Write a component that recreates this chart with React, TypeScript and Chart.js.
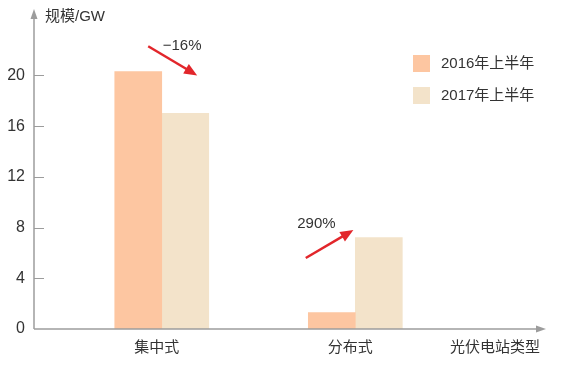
import React, { useEffect, useRef } from 'react';
import { Chart, registerables } from 'chart.js';

Chart.register(...registerables);

const FONT = "'Liberation Sans', 'Noto Sans CJK SC', sans-serif";

const categories = ['集中式', '分布式'];
const categoryPositions = [1, 2];
const seriesNames = ['2016年上半年', '2017年上半年'];
const values2016 = [20.3, 1.3];
const values2017 = [17.0, 7.2];
const seriesColors = ['#FDC6A1', '#F3E3CA'];
const yTickValues = [0, 4, 8, 12, 16, 20];
const yAxisTitle = '规模/GW';
const xAxisTitle = '光伏电站类型';

// annotation anchors in data coordinates (x: category position, y: GW)
const annoText = ['−16%', '290%'];
const annoTextX = [1.005, 1.70];
const annoTextY = [22.3, 8.3];
const annoFromX = [0.93, 1.744];
const annoFromY = [22.3, 5.6];
const annoToX = [1.183, 1.99];
const annoToY = [20.0, 7.8];

const decoPlugin = {
  id: 'deco',
  afterDraw(chart: any) {
    const { ctx, chartArea: a, scales } = chart;
    const xs = scales.x;
    const ys = scales.y;
    ctx.save();
    // axes
    ctx.strokeStyle = '#9c9c9c';
    ctx.fillStyle = '#9c9c9c';
    ctx.lineWidth = 1.5;
    ctx.beginPath();
    ctx.moveTo(a.left, a.bottom);
    ctx.lineTo(a.left, a.top + 4);
    ctx.stroke();
    ctx.beginPath();
    ctx.moveTo(a.left, a.top - 3);
    ctx.lineTo(a.left - 3.5, a.top + 7);
    ctx.lineTo(a.left + 3.5, a.top + 7);
    ctx.closePath();
    ctx.fill();

    ctx.beginPath();
    ctx.moveTo(a.left, a.bottom);
    ctx.lineTo(a.right - 4, a.bottom);
    ctx.stroke();
    ctx.beginPath();
    ctx.moveTo(a.right + 1, a.bottom);
    ctx.lineTo(a.right - 9, a.bottom - 3.5);
    ctx.lineTo(a.right - 9, a.bottom + 3.5);
    ctx.closePath();
    ctx.fill();

    // inner tick marks
    ctx.lineWidth = 1;
    ys.ticks.forEach((t: any) => {
      if (t.value <= 0) return;
      const y = Math.round(ys.getPixelForValue(t.value)) + 0.5;
      ctx.beginPath();
      ctx.moveTo(a.left, y);
      ctx.lineTo(a.left + 10, y);
      ctx.stroke();
    });

    // axis titles
    ctx.fillStyle = '#333333';
    ctx.font = `15px ${FONT}`;
    ctx.textBaseline = 'middle';
    ctx.textAlign = 'left';
    ctx.fillText(yAxisTitle, a.left + 11, a.top + 5);
    ctx.textAlign = 'right';
    ctx.fillText(xAxisTitle, a.right - 5, a.bottom + 19);

    // legend
    const ds = chart.data.datasets;
    ds.forEach((d: any, i: number) => {
      const ly = 55 + i * 32;
      ctx.fillStyle = d.backgroundColor;
      ctx.fillRect(413, ly, 17, 17);
      ctx.fillStyle = '#333333';
      ctx.textAlign = 'left';
      ctx.font = `15px ${FONT}`;
      ctx.fillText(d.label, 441, ly + 9);
    });

    // annotations
    annoText.forEach((txt, i) => {
      const tx = xs.getPixelForValue(annoTextX[i]);
      const ty = ys.getPixelForValue(annoTextY[i]);
      ctx.fillStyle = '#333333';
      ctx.textAlign = 'left';
      ctx.font = `15px ${FONT}`;
      ctx.fillText(txt, tx, ty);

      const x0 = xs.getPixelForValue(annoFromX[i]);
      const y0 = ys.getPixelForValue(annoFromY[i]);
      const x1 = xs.getPixelForValue(annoToX[i]);
      const y1 = ys.getPixelForValue(annoToY[i]);
      const ang = Math.atan2(y1 - y0, x1 - x0);
      const hl = 13;
      const hw = 5.5;
      const bx = x1 - hl * Math.cos(ang);
      const by = y1 - hl * Math.sin(ang);
      ctx.strokeStyle = '#E2262B';
      ctx.fillStyle = '#E2262B';
      ctx.lineWidth = 2.5;
      ctx.beginPath();
      ctx.moveTo(x0, y0);
      ctx.lineTo(bx + 2 * Math.cos(ang), by + 2 * Math.sin(ang));
      ctx.stroke();
      ctx.beginPath();
      ctx.moveTo(x1, y1);
      ctx.lineTo(bx - hw * Math.sin(ang), by + hw * Math.cos(ang));
      ctx.lineTo(bx + hw * Math.sin(ang), by - hw * Math.cos(ang));
      ctx.closePath();
      ctx.fill();
    });
    ctx.restore();
  },
};

export default function App() {
  const ref = useRef<HTMLCanvasElement | null>(null);
  useEffect(() => {
    document.body.style.margin = '0';
    Chart.defaults.font.family = FONT;
    const canvas = ref.current;
    if (!canvas) return;
    const chart = new Chart(canvas, {
      type: 'bar',
      data: {
        datasets: [
          {
            label: seriesNames[0],
            data: categoryPositions.map((x, i) => ({ x, y: values2016[i] })),
            backgroundColor: seriesColors[0],
            borderWidth: 0,
            barThickness: 47,
          },
          {
            label: seriesNames[1],
            data: categoryPositions.map((x, i) => ({ x, y: values2017[i] })),
            backgroundColor: seriesColors[1],
            borderWidth: 0,
            barThickness: 47,
          },
        ],
      },
      options: {
        responsive: false,
        animation: false,
        layout: { padding: { top: 12, right: 20, left: 0, bottom: 0 } },
        plugins: { legend: { display: false }, tooltip: { enabled: false } },
        scales: {
          x: {
            type: 'linear',
            min: 0.34,
            max: 2.98,
            offset: false,
            bounds: 'data',
            grid: { display: false, drawTicks: false, offset: false },
            border: { display: false },
            afterBuildTicks: (s: any) => {
              s.ticks = categoryPositions.map((v) => ({ value: v }));
            },
            afterFit: (s: any) => {
              s.height = 45;
              s.paddingLeft = 0;
              s.paddingRight = 0;
            },
            ticks: {
              callback: (v: any) => {
                const i = categoryPositions.indexOf(Number(v));
                return i >= 0 ? categories[i] : '';
              },
              font: { size: 15, family: FONT },
              color: '#333333',
              padding: 10,
              labelOffset: -5,
              maxRotation: 0,
              autoSkip: false,
            },
          },
          y: {
            type: 'linear',
            min: 0,
            max: 25,
            grid: { display: false, drawTicks: false },
            border: { display: false },
            afterBuildTicks: (s: any) => {
              s.ticks = yTickValues.map((v) => ({ value: v }));
            },
            afterFit: (s: any) => {
              s.width = 34;
              s.paddingTop = 0;
              s.paddingBottom = 0;
            },
            ticks: {
              font: { size: 16, family: FONT },
              color: '#333333',
              padding: 9,
            },
          },
        },
      },
      plugins: [decoPlugin],
    } as any);
    return () => chart.destroy();
  }, []);
  return (
    <div style={{ width: 565, height: 374 }}>
      <canvas ref={ref} width={565} height={374} />
    </div>
  );
}
